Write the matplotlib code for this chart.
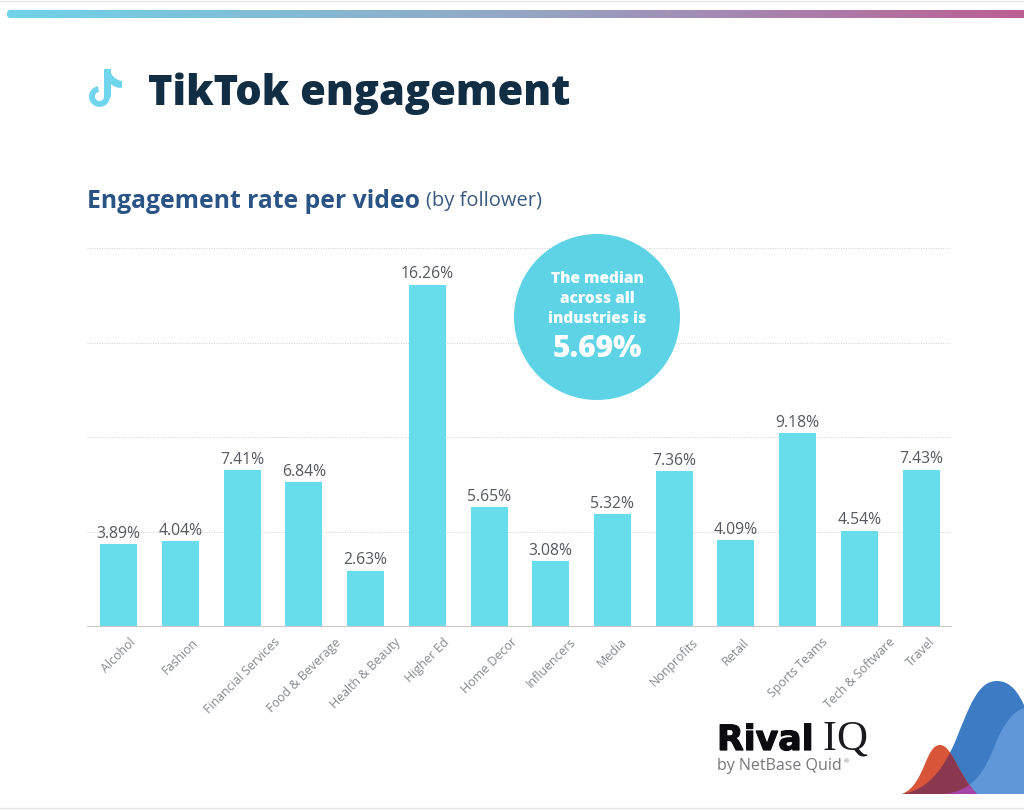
import numpy as np
import matplotlib
matplotlib.use("Agg")
import matplotlib.pyplot as plt
import matplotlib.patheffects as pe
from matplotlib.colors import LinearSegmentedColormap
from matplotlib.patches import Arc, Circle, FancyBboxPatch, PathPatch, Rectangle
from matplotlib.path import Path

plt.rcParams['font.family'] = ['Open Sans', 'DejaVu Sans']

# data
industries = ['Alcohol', 'Fashion', 'Financial Services', 'Food & Beverage',
              'Health & Beauty', 'Higher Ed', 'Home Decor', 'Influencers',
              'Media', 'Nonprofits', 'Retail', 'Sports Teams',
              'Tech & Software', 'Travel']
rates = [3.89, 4.04, 7.41, 6.84, 2.63, 16.26, 5.65, 3.08, 5.32, 7.36, 4.09,
         9.18, 4.54, 7.43]
grid_ticks = [4.5, 9, 13.5, 18]

W, H = 1024, 810
fig = plt.figure(figsize=(W / 100, H / 100), dpi=100, facecolor='white')

# full-figure layer in pixel coordinates for the decorations
bg = fig.add_axes([0, 0, 1, 1], zorder=0)
bg.set_xlim(0, W)
bg.set_ylim(H, 0)
bg.axis('off')

# gradient bar along the top
grad = LinearSegmentedColormap.from_list('bar', ['#6fd3ea', '#94a7c4', '#bc5f95'])
img = bg.imshow(np.linspace(0, 1, 512).reshape(1, -1), cmap=grad, aspect='auto',
                extent=(7, 1024, 18, 10), zorder=1)
clip = FancyBboxPatch((7, 10), 1030, 8, boxstyle='round,pad=0,rounding_size=3',
                      transform=bg.transData, fc='none', ec='none')
bg.add_patch(clip)
img.set_clip_path(clip)
bg.set_xlim(0, W)
bg.set_ylim(H, 0)

# thin page edges
bg.plot([0, W], [1, 1], color='#e8e8e8', lw=1)
bg.plot([0, W], [808, 808], color='#e4e4e4', lw=1)

# TikTok note icon
note = '#70d6ee'
bg.add_patch(Arc((99.5, 96.5), 15, 15, theta1=0, theta2=262, ec=note, lw=4.2))
bg.add_patch(Rectangle((103.5, 69), 7, 28, fc=note, ec='none'))
bg.add_patch(PathPatch(Path([(110, 69), (111, 79), (122, 81), (122, 88), (114, 88),
                             (110, 83), (110, 69)],
                            [Path.MOVETO, Path.CURVE3, Path.CURVE3, Path.LINETO,
                             Path.CURVE3, Path.CURVE3, Path.CLOSEPOLY]),
                       fc=note, ec='none'))

# headings
bg.text(148, 94, 'TikTok engagement', fontsize=30, fontweight='heavy',
        color='#122e45', va='center', ha='left')
bg.text(87, 201, 'Engagement rate per video', fontsize=17.8, fontweight='bold',
        color='#2b5486', va='center', ha='left')
bg.text(426, 201, '(by follower)', fontsize=14.5, color='#3b5a80', va='center', ha='left')

# Rival IQ logo
bg.text(717, 750, 'Rival', fontsize=25, fontweight='bold', family=['DejaVu Sans'],
        color='#0c0c10', va='baseline', ha='left',
        path_effects=[pe.withStroke(linewidth=0.9, foreground='#0c0c10')])
bg.text(822, 750, 'I', fontsize=30, family=['Liberation Serif', 'DejaVu Serif'],
        color='#1a1a20', va='baseline', ha='left')
bg.text(836, 750, 'Q', fontsize=31, family=['Liberation Serif', 'DejaVu Serif'],
        color='#1a1a20', va='baseline', ha='left')
bg.text(717, 766, 'by NetBase Quid', fontsize=11.5, color='#77787c', va='center', ha='left')
bg.text(844, 762, '®', fontsize=4.5, color='#77787c', va='center', ha='left')

# mountain shapes in the logo corner
C = Path.CURVE4
blue_path = Path([(902, 794), (930, 790), (945, 765), (955, 742), (970, 705), (978, 681),
                  (997, 681), (1010, 681), (1018, 692), (1024, 705), (1024, 794), (902, 794)],
                 [Path.MOVETO, C, C, C, C, C, C, C, C, C, Path.LINETO, Path.CLOSEPOLY])
light_path = Path([(945, 794), (975, 790), (985, 770), (995, 745), (1003, 725), (1012, 712),
                   (1024, 708), (1024, 794), (945, 794)],
                  [Path.MOVETO, C, C, C, C, C, C, Path.LINETO, Path.CLOSEPOLY])
red_path = Path([(902, 794), (925, 785), (925, 745), (940, 745), (952, 745),
                 (958, 775), (977, 794), (902, 794)],
                [Path.MOVETO, C, C, C, C, C, C, Path.CLOSEPOLY])
bg.add_patch(PathPatch(blue_path, fc='#3d7cc4', ec='none', zorder=2))
bg.add_patch(PathPatch(light_path, fc='#5f97d8', ec='none', zorder=3))
red = PathPatch(red_path, fc='#d8553a', ec='none', zorder=4)
bg.add_patch(red)
# overlaps: blue shapes seen through the red one
maroon = PathPatch(blue_path, fc='#8a3850', ec='none', zorder=5)
bg.add_patch(maroon)
maroon.set_clip_path(red)
purple = PathPatch(light_path, fc='#a545a8', ec='none', zorder=6)
bg.add_patch(purple)
purple.set_clip_path(red)

# bar chart
ax = fig.add_axes([87 / W, 1 - 626 / H, (951 - 87) / W, 378 / H], zorder=1)
ax.patch.set_alpha(0)
x = np.arange(len(industries)) + 0.015
ax.bar(x, rates, width=0.6, color='#67dcea', zorder=2)
for xi, v in zip(x, rates):
    ax.text(xi, v + 0.12, f'{v:.2f}%', ha='center', va='bottom', fontsize=11.3,
            color='#55585f')

ax.set_xlim(-0.5, len(industries) - 0.5)
ax.set_ylim(0, 18)
ax.set_yticks(grid_ticks)
ax.set_yticklabels([])
ax.yaxis.grid(True, linestyle=(0, (1, 1.5)), color='#d0d0d0', linewidth=0.7, zorder=0)
ax.set_xticks(x)
# labels are centred under the bars, not end-anchored
ax.set_xticklabels(industries, rotation=45, ha='center', va='top', fontsize=8.9,
                   color='#85888f')
ax.tick_params(axis='both', length=0)
ax.tick_params(axis='x', pad=7)
for name, sp in ax.spines.items():
    sp.set_visible(name == 'bottom')
ax.spines['bottom'].set_color('#c9c9c9')

# median callout, on top of the grid
top = fig.add_axes([0, 0, 1, 1], zorder=2)
top.set_xlim(0, W)
top.set_ylim(H, 0)
top.axis('off')
top.add_patch(Circle((597, 317), 83, fc='#5fd3e6', ec='none'))
for yy, line in zip([279, 299, 319], ['The median', 'across all', 'industries is']):
    top.text(597, yy, line, color='white', fontsize=11.2, fontweight='heavy',
             ha='center', va='center')
top.text(597, 349, '5.69%', color='white', fontsize=21.5, fontweight='heavy',
         ha='center', va='center')

fig.savefig('out.png', dpi=100)
